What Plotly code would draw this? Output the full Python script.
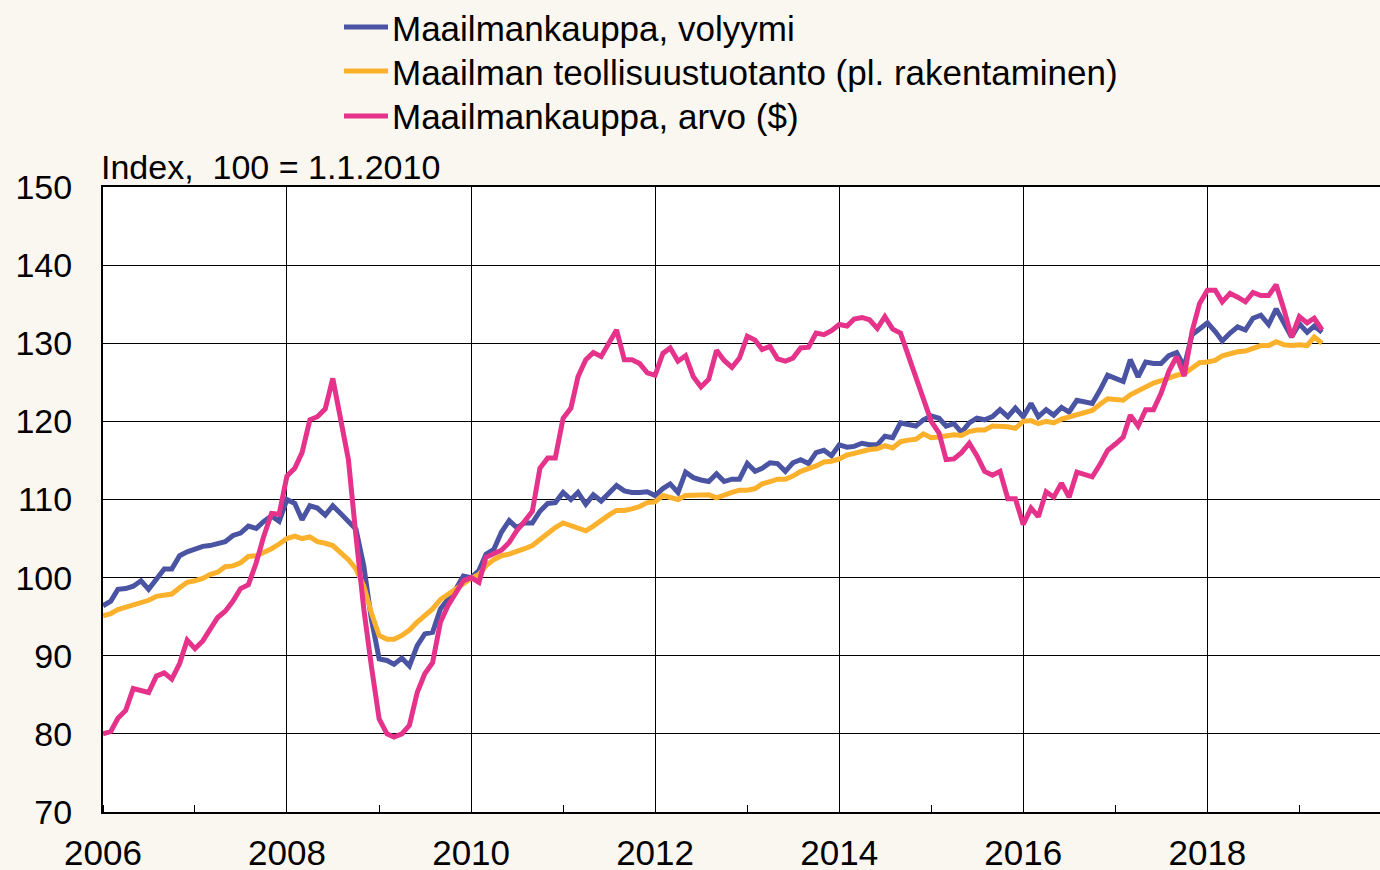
import pandas as pd
import plotly.graph_objects as go

months = pd.date_range("2006-01-01", periods=160, freq="MS")

volume = [
    96.4, 97.0, 98.5, 98.6, 98.9, 99.6, 98.5, 99.8, 101.1, 101.1, 102.8, 103.3,
    103.7, 104.0, 104.1, 104.4, 104.6, 105.4, 105.7, 106.6, 106.3, 107.2, 107.9, 107.2,
    110.0, 109.5, 107.4, 109.2, 108.9, 108.0, 109.2, 108.2, 107.2, 106.2, 101.5, 94.7,
    89.6, 89.4, 88.9, 89.7, 88.7, 91.3, 92.8, 93.0, 96.0, 97.3, 98.5, 100.2,
    100.0, 100.9, 103.0, 103.6, 105.8, 107.3, 106.4, 107.0, 107.0, 108.5, 109.5, 109.6,
    110.9, 110.0, 110.9, 109.4, 110.6, 109.8, 110.9, 111.8, 111.1, 110.9, 110.9, 111.0,
    110.5, 111.4, 112.0, 110.9, 113.5, 112.8, 112.5, 112.3, 113.3, 112.3, 112.6, 112.6,
    114.6, 113.6, 114.0, 114.7, 114.6, 113.6, 114.7, 115.1, 114.6, 116.0, 116.3, 115.6,
    117.0, 116.7, 116.8, 117.2, 117.0, 117.0, 118.1, 117.9, 119.8, 119.6, 119.4, 120.2,
    120.7, 120.4, 119.4, 119.7, 118.6, 119.8, 120.4, 120.2, 120.6, 121.5, 120.6, 121.7,
    120.6, 122.3, 120.6, 121.5, 120.8, 121.8, 121.2, 122.7, 122.5, 122.3, 124.0, 125.9,
    125.5, 125.1, 127.9, 125.7, 127.6, 127.4, 127.4, 128.4, 128.8, 127.0, 131.1, 131.9,
    132.6, 131.5, 130.3, 131.3, 132.1, 131.7, 133.2, 133.6, 132.4, 134.4, 132.4, 130.8,
    132.5, 131.4, 132.2, 131.4,
]

industry = [
    95.1, 95.4, 95.9, 96.2, 96.6, 96.9, 97.1, 97.6, 97.7, 97.9, 98.7, 99.4,
    99.6, 99.9, 100.4, 100.7, 101.4, 101.5, 101.9, 102.7, 102.8, 103.2, 103.7, 104.3,
    105.0, 105.3, 105.0, 105.2, 104.6, 104.4, 104.1, 103.2, 102.3, 101.1, 98.9, 95.5,
    92.6, 92.1, 92.1, 92.6, 93.3, 94.3, 95.1, 96.0, 97.2, 97.9, 98.6, 99.2,
    99.9, 100.4, 101.5, 102.3, 102.8, 103.0, 103.3, 103.7, 104.1, 104.9, 105.7, 106.4,
    107.0, 106.7, 106.3, 106.0, 106.6, 107.4, 108.0, 108.6, 108.6, 108.8, 109.1, 109.6,
    109.7, 110.5, 110.3, 110.0, 110.5, 110.5, 110.6, 110.6, 110.2, 110.6, 110.9, 111.2,
    111.2, 111.4, 112.0, 112.3, 112.6, 112.6, 113.0, 113.6, 113.9, 114.3, 114.8, 114.9,
    115.2, 115.7, 115.9, 116.2, 116.4, 116.5, 116.9, 116.6, 117.4, 117.6, 117.7, 118.4,
    117.9, 118.0, 118.2, 118.3, 118.2, 118.7, 118.9, 118.9, 119.4, 119.4, 119.3, 119.1,
    120.0, 120.1, 119.7, 120.0, 119.8, 120.3, 120.6, 120.8, 121.1, 121.4, 122.2, 122.9,
    122.8, 122.7, 123.4, 123.9, 124.5, 124.9, 125.2, 125.6, 125.9, 126.1, 126.8, 127.5,
    127.6, 127.8, 128.4, 128.7, 128.9, 129.0, 129.4, 129.7, 129.7, 130.2, 129.8, 129.7,
    129.8, 129.7, 130.8, 130.0,
]

value = [
    80.0, 80.3, 82.0, 83.0, 85.8, 85.6, 85.3, 87.4, 87.8, 87.0, 89.0, 92.0,
    90.9, 91.9, 93.2, 94.9, 95.7, 97.0, 98.6, 99.1, 101.9, 105.3, 108.2, 108.1,
    113.0, 114.0, 116.0, 120.2, 120.6, 121.6, 125.5, 120.6, 115.1, 105.3, 96.0, 88.7,
    81.9, 80.0, 79.6, 80.0, 81.1, 85.3, 87.7, 89.1, 94.3, 96.4, 98.1, 99.6,
    100.0, 99.4, 102.6, 103.1, 103.5, 104.5, 106.0, 107.2, 108.5, 114.0, 115.3, 115.3,
    120.4, 121.7, 125.7, 127.9, 128.8, 128.3, 130.0, 131.7, 127.9, 127.9, 127.4, 126.2,
    125.9, 128.7, 129.4, 127.7, 128.4, 125.7, 124.4, 125.4, 129.1, 127.8, 126.9, 128.1,
    130.9, 130.4, 129.2, 129.6, 128.0, 127.7, 128.1, 129.4, 129.5, 131.3, 131.1, 131.6,
    132.4, 132.2, 133.1, 133.3, 133.0, 131.9, 133.4, 131.8, 131.3, 128.5, 125.5, 122.6,
    120.0, 118.5, 115.1, 115.2, 116.0, 117.2, 115.6, 113.6, 113.1, 113.6, 110.1, 110.1,
    106.8, 108.9, 107.8, 111.0, 110.3, 112.1, 110.3, 113.5, 113.2, 112.9, 114.5, 116.3,
    117.1, 118.0, 120.8, 119.4, 121.5, 121.5, 123.6, 126.4, 128.3, 125.8, 131.5, 135.1,
    136.8, 136.8, 135.3, 136.4, 135.9, 135.3, 136.5, 136.1, 136.1, 137.5, 134.3, 130.8,
    133.4, 132.6, 133.2, 131.7,
]

names = [
    "Maailmankauppa, volyymi",
    "Maailman teollisuustuotanto (pl. rakentaminen)",
    "Maailmankauppa, arvo ($)",
]
colors = ["#4a54a2", "#fcb12c", "#e5328a"]

year_ticks = ["2006", "2008", "2010", "2012", "2014", "2016", "2018"]
y_ticks = [70, 80, 90, 100, 110, 120, 130, 140, 150]

FONT = "Liberation Sans, Arial, sans-serif"
W, H = 1380, 870
ML, MR, MT, MB = 103, 0, 187, 58
PW, PH = W - ML - MR, H - MT - MB


def px_x(px):
    return (px - ML) / PW


def px_y(py):
    return 1 + (MT - py) / PH


fig = go.Figure()
for name, ys, col in zip(names, [volume, industry, value], colors):
    fig.add_trace(go.Scatter(
        x=months, y=ys, name=name, mode="lines",
        line=dict(color=col, width=5), showlegend=False,
    ))

# legend drawn as line swatches + text labels
legend_rows = [27, 71, 116]
shapes = []
annotations = []
for name, col, py in zip(names, colors, legend_rows):
    shapes.append(dict(
        type="line", xref="paper", yref="paper",
        x0=px_x(344), x1=px_x(388), y0=px_y(py), y1=px_y(py),
        line=dict(color=col, width=5),
    ))
    annotations.append(dict(
        text=name, xref="paper", yref="paper",
        x=px_x(390), y=px_y(py + 1), xanchor="left", yanchor="middle",
        showarrow=False, font=dict(size=35),
    ))

annotations.append(dict(
    text="Index,  100 = 1.1.2010", xref="paper", yref="paper",
    x=-0.003, y=0.998, xanchor="left", yanchor="bottom", showarrow=False,
    font=dict(size=34),
))

fig.update_layout(
    width=W, height=H,
    margin=dict(l=ML, r=MR, t=MT, b=MB),
    paper_bgcolor="#faf6f0",
    plot_bgcolor="#ffffff",
    font=dict(family=FONT, size=34, color="#000000"),
    showlegend=False,
    xaxis=dict(
        type="date",
        range=["2006-01-01", "2019-11-17"],
        tickvals=[f"{y}-01-01" for y in year_ticks],
        ticktext=year_ticks,
        tickfont=dict(size=35),
        showgrid=True, gridcolor="#000000", gridwidth=1,
        showline=True, linecolor="#000000", linewidth=2, mirror=True,
        ticks="", ticklabelstandoff=9,
        minor=dict(dtick="M12", ticks="inside", ticklen=7, tickcolor="#000000",
                   tickwidth=1, showgrid=False),
        zeroline=False, automargin=False,
    ),
    yaxis=dict(
        range=[70, 150],
        tickvals=y_ticks,
        tickfont=dict(size=34),
        showgrid=True, gridcolor="#000000", gridwidth=1,
        showline=True, linecolor="#000000", linewidth=2,
        ticks="", ticklabelstandoff=22,
        zeroline=False, automargin=False,
    ),
    shapes=shapes,
    annotations=annotations,
)

fig.write_html(
    "out.html",
    config={"displayModeBar": False},
    post_script="document.body.style.margin='0';document.body.style.overflow='hidden';",
)
